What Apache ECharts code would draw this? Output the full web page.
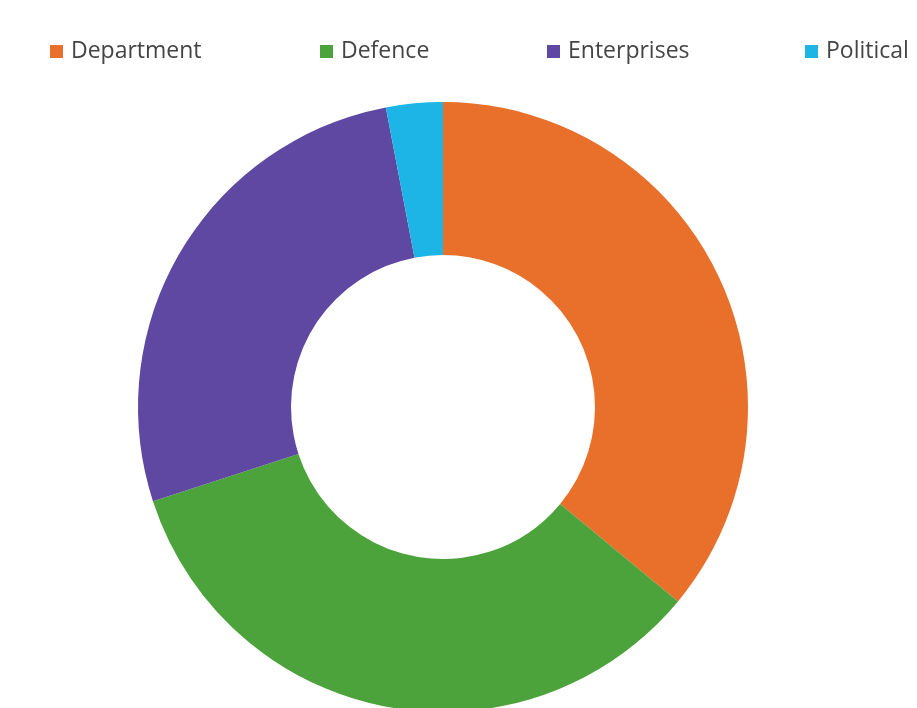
<!DOCTYPE html>
<html>
<head>
<meta charset="utf-8">
<script src="https://cdn.jsdelivr.net/npm/echarts@6/dist/echarts.min.js"></script>
<style>
html,body{margin:0;padding:0;background:#fff;}
#chart{width:917px;height:708px;}
</style>
</head>
<body>
<div id="chart"></div>
<script>
const categories = ['Department', 'Defence', 'Enterprises', 'Political'];
const values = [36, 34, 27, 3];
const colors = ['#E8702A', '#4DA33B', '#5E48A2', '#1DB5E5'];

const legendLefts = [45, 315, 542, 800];
const chart = echarts.init(document.getElementById('chart'));
chart.setOption({
  backgroundColor: '#ffffff',
  color: colors,
  legend: categories.map((c, i) => ({
    data: [c],
    left: legendLefts[i],
    top: 35,
    icon: 'rect',
    itemWidth: 13,
    itemHeight: 13,
    itemGap: 0,
    textStyle: { fontFamily: 'Open Sans', fontSize: 23, color: '#444444', padding: [0, 0, 0, 3] }
  })),
  series: [{
    type: 'pie',
    center: [443, 407],
    radius: [152, 305],
    startAngle: 90,
    clockwise: true,
    label: { show: false },
    labelLine: { show: false },
    itemStyle: { borderWidth: 0 },
    emphasis: { disabled: true },
    data: categories.map((c, i) => ({ name: c, value: values[i] }))
  }]
});
</script>
</body>
</html>
